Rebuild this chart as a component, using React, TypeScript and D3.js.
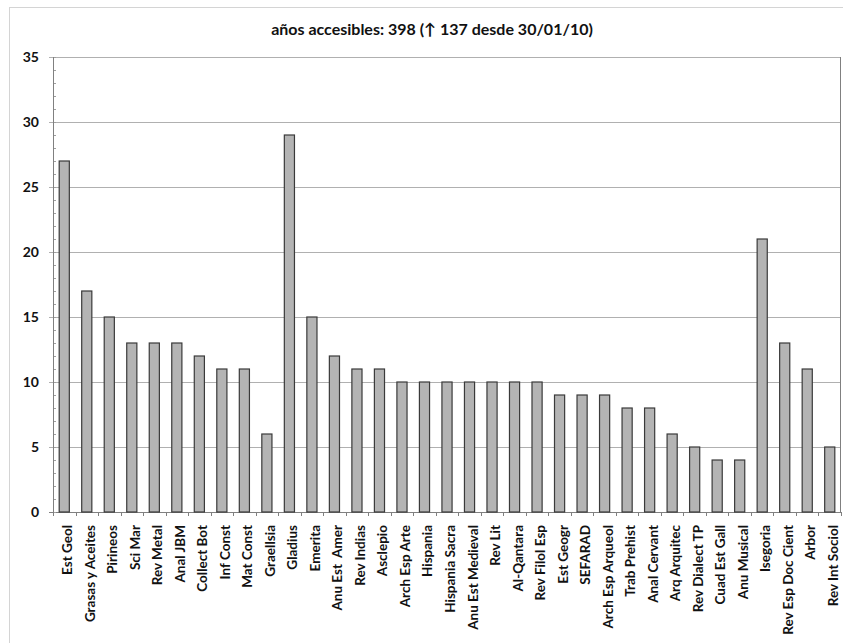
import React from "react";
import * as d3 from "d3";

const categories: string[] = [
  "Est Geol", "Grasas y Aceites", "Pirineos", "Sci Mar", "Rev Metal", "Anal JBM",
  "Collect Bot", "Inf Const", "Mat Const", "Graellsia", "Gladius", "Emerita",
  "Anu Est  Amer", "Rev Indias", "Asclepio", "Arch Esp Arte", "Hispania",
  "Hispania Sacra", "Anu Est Medieval", "Rev Lit", "Al-Qantara", "Rev Filol Esp",
  "Est Geogr", "SEFARAD", "Arch Esp Arqueol", "Trab Prehist", "Anal Cervant",
  "Arq Arquitec", "Rev Dialect TP", "Cuad Est Gall", "Anu Musical", "Isegoria",
  "Rev Esp Doc Cient", "Arbor", "Rev Int Sociol",
];

const values: number[] = [
  27, 17, 15, 13, 13, 13, 12, 11, 11, 6, 29, 15, 12, 11, 11, 10, 10, 10, 10, 10,
  10, 10, 9, 9, 9, 8, 8, 6, 5, 4, 4, 21, 13, 11, 5,
];

const yTicks: number[] = [0, 5, 10, 15, 20, 25, 30, 35];
const minorTicks: number[] = d3.range(0, 36, 1);

const title = "años accesibles: 398 (↑ 137 desde 30/01/10)";

const W = 843;
const H = 643;
const plot = { left: 53, right: 841, top: 57, bottom: 512 };
const FONT = "Lato, 'Open Sans', sans-serif";

export default function App() {
  const x = d3
    .scaleBand<string>()
    .domain(categories)
    .range([plot.left, plot.right])
    .paddingInner(0.56)
    .paddingOuter(0.28);
  const step = (plot.right - plot.left) / categories.length;
  const xb = d3
    .scaleLinear()
    .domain([0, categories.length])
    .range([plot.left, plot.right]);
  const y = d3.scaleLinear().domain([0, 35]).range([plot.bottom, plot.top]);
  const bw = step * 0.45;

  return (
    <div style={{ position: "fixed", left: 0, top: 0 }}>
      <svg width={W} height={H} style={{ display: "block", background: "#fff" }}>
        <rect x={9.5} y={7.5} width={W + 10} height={H + 10} fill="#fff" stroke="#d4d4d4" strokeWidth={1} />
        <text
          x={432}
          y={35}
          textAnchor="middle"
          fontFamily={FONT}
          fontWeight="bold"
          fontSize={16}
          fill="#111"
        >
          {title}
        </text>
        {/* gridlines */}
        {yTicks.map((t) => (
          <line
            key={"g" + t}
            x1={plot.left - 4}
            x2={plot.right}
            y1={Math.round(y(t)) + 0.5}
            y2={Math.round(y(t)) + 0.5}
            stroke={t === 0 ? "#808080" : "#b0b0b0"}
            strokeWidth={1}
          />
        ))}
        {/* minor ticks */}
        {minorTicks.map((t) => (
          <line
            key={"m" + t}
            x1={plot.left}
            x2={plot.left + 3}
            y1={Math.round(y(t)) + 0.5}
            y2={Math.round(y(t)) + 0.5}
            stroke="#a0a0a0"
          />
        ))}
        {/* plot border */}
        <line x1={plot.left + 0.5} x2={plot.left + 0.5} y1={plot.top} y2={plot.bottom} stroke="#808080" />
        <line x1={plot.right - 0.5} x2={plot.right - 0.5} y1={plot.top} y2={plot.bottom} stroke="#808080" />
        {/* y tick labels */}
        {yTicks.map((t) => (
          <text
            key={"yl" + t}
            x={39}
            y={y(t) + 5}
            textAnchor="end"
            fontFamily={FONT}
            fontWeight="bold"
            fontSize={14}
            fill="#111"
          >
            {t}
          </text>
        ))}
        {/* x category ticks */}
        {d3.range(0, categories.length + 1).map((i) => (
          <line
            key={"xt" + i}
            x1={Math.round(xb(i)) + 0.5}
            x2={Math.round(xb(i)) + 0.5}
            y1={plot.bottom}
            y2={plot.bottom + 4}
            stroke="#808080"
          />
        ))}
        {/* bars */}
        {categories.map((c, i) => {
          const cx = (x(c) as number) + x.bandwidth() / 2;
          return (
            <rect
              key={"b" + i}
              x={cx - bw / 2}
              y={y(values[i])}
              width={bw}
              height={y(0) - y(values[i])}
              fill="#b4b4b4"
              stroke="#3a3a3a"
              strokeWidth={1.2}
            />
          );
        })}
        {/* x labels */}
        {categories.map((c, i) => {
          const cx = (x(c) as number) + x.bandwidth() / 2;
          return (
            <text
              key={"xl" + i}
              transform={`translate(${cx + 8},${plot.bottom + 13}) rotate(-90)`}
              textAnchor="end"
              fontFamily={FONT}
              fontWeight="bold"
              fontSize={13.5}
              fill="#111"
              style={{ whiteSpace: "pre" }}
            >
              {c}
            </text>
          );
        })}
      </svg>
    </div>
  );
}
